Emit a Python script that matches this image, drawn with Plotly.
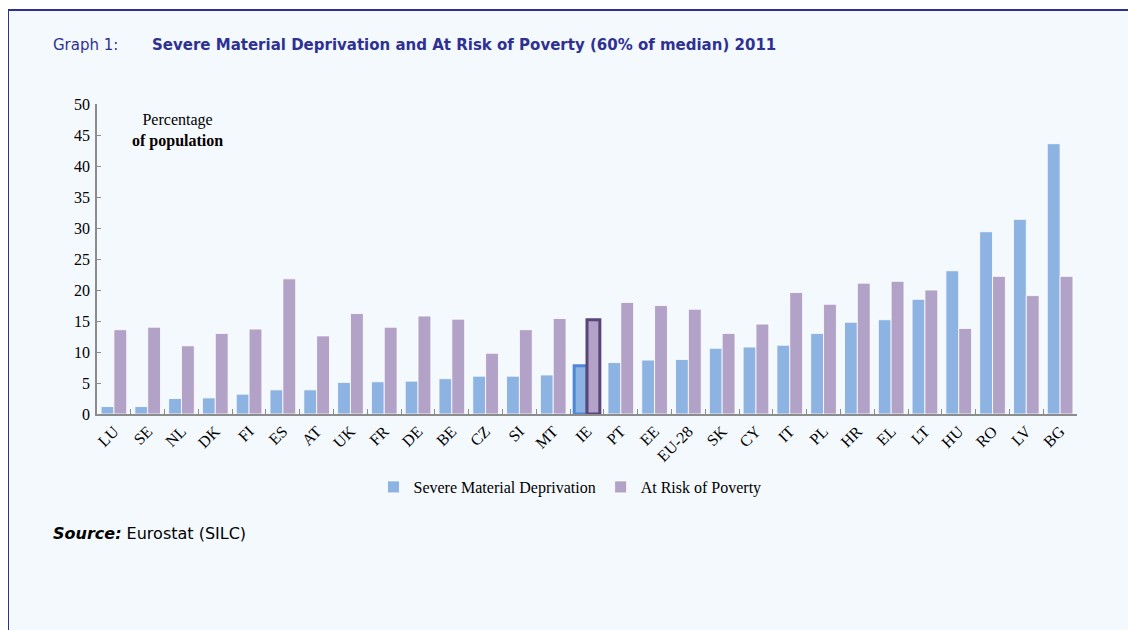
"""
Graph 1 — Severe Material Deprivation and At Risk of Poverty (60% of median), 2011.
"""

import plotly.graph_objects as go


# ── Data (Eurostat SILC, % of population) ────────────────────────────────────
COUNTRIES = [
    "LU", "SE", "NL", "DK", "FI", "ES", "AT", "UK", "FR", "DE",
    "BE", "CZ", "SI", "MT", "IE", "PT", "EE", "EU-28", "SK", "CY",
    "IT", "PL", "HR", "EL", "LT", "HU", "RO", "LV", "BG",
]
SEVERE_DEPRIVATION = [
    1.2, 1.2, 2.5, 2.6, 3.2, 3.9, 3.9, 5.1, 5.2, 5.3,
    5.7, 6.1, 6.1, 6.3, 7.8, 8.3, 8.7, 8.8, 10.6, 10.8,
    11.1, 13.0, 14.8, 15.2, 18.5, 23.1, 29.4, 31.4, 43.6,
]
AT_RISK_POVERTY = [
    13.6, 14.0, 11.0, 13.0, 13.7, 21.8, 12.6, 16.2, 14.0, 15.8,
    15.3, 9.8, 13.6, 15.4, 15.2, 18.0, 17.5, 16.9, 13.0, 14.5,
    19.6, 17.7, 21.1, 21.4, 20.0, 13.8, 22.2, 19.1, 22.2,
]
HIGHLIGHT = "IE"

# ── Colours / fonts ──────────────────────────────────────────────────────────
BLUE        = "#8DB3E2"
PURPLE      = "#B3A2C7"
BLUE_EDGE   = "#4F86D6"
PURPLE_EDGE = "#5A4479"
NAVY        = "#2E3192"
PANEL_BG    = "#F4F9FD"
AXIS_GREY   = "#8C8C8C"
SERIF       = "Liberation Serif"
SANS        = "DejaVu Sans"

# page body has an 8px margin, so the figure sits at (8, 8) in the window
OFF = 8
W, H = 1136 - OFF, 630 - OFF
PX_L, PX_R, PX_T, PX_B = 97, 1077, 104, 414   # plot area in window pixels


def px_x(x):
    return (x - PX_L) / (PX_R - PX_L)


def px_y(y):
    return (PX_B - y) / (PX_B - PX_T)


def edge(hi_col):
    cols = [hi_col if c == HIGHLIGHT else "rgba(255,255,255,0.8)" for c in COUNTRIES]
    widths = [3 if c == HIGHLIGHT else 1 for c in COUNTRIES]
    return dict(color=cols, width=widths)


fig = go.Figure()
fig.add_trace(go.Bar(
    x=COUNTRIES, y=SEVERE_DEPRIVATION,
    name="Severe Material Deprivation",
    marker=dict(color=BLUE, line=edge(BLUE_EDGE)),
))
fig.add_trace(go.Bar(
    x=COUNTRIES, y=AT_RISK_POVERTY,
    name="At Risk of Poverty",
    marker=dict(color=PURPLE, line=edge(PURPLE_EDGE)),
))

# panel with navy border behind everything
fig.add_shape(
    type="rect", xref="paper", yref="paper", layer="below",
    x0=px_x(8), x1=px_x(1133), y0=px_y(650), y1=px_y(10),
    line=dict(color=NAVY, width=2), fillcolor=PANEL_BG,
)

fig.add_annotation(
    xref="paper", yref="paper", x=px_x(51), y=px_y(45),
    xanchor="left", yanchor="middle", showarrow=False,
    text="Graph 1:",
    font=dict(family=SANS, size=15, color=NAVY),
)
fig.add_annotation(
    xref="paper", yref="paper", x=px_x(150), y=px_y(45),
    xanchor="left", yanchor="middle", showarrow=False,
    text="<b>Severe Material Deprivation and At Risk of Poverty (60% of median) 2011</b>",
    font=dict(family=SANS, size=15, color=NAVY),
)
fig.add_annotation(
    xref="paper", yref="paper", x=px_x(177), y=px_y(130),
    xanchor="center", yanchor="middle", showarrow=False, align="center",
    text="Percentage<br><b>of population</b>",
    font=dict(family=SERIF, size=16, color="#000"),
)
fig.add_annotation(
    xref="paper", yref="paper", x=px_x(51), y=px_y(533),
    xanchor="left", yanchor="middle", showarrow=False,
    text="<b><i>Source:</i></b> Eurostat (SILC)",
    font=dict(family=SANS, size=16, color="#000"),
)

fig.update_layout(
    width=W, height=H,
    margin=dict(l=PX_L - OFF, r=1136 - PX_R, t=PX_T - OFF, b=630 - PX_B),
    paper_bgcolor="white", plot_bgcolor="rgba(0,0,0,0)",
    barmode="group", bargap=0.24, bargroupgap=0.0,
    font=dict(family=SERIF, size=15, color="#000"),
    legend=dict(
        orientation="h", x=px_x(570), y=px_y(487),
        xanchor="center", yanchor="middle",
        font=dict(family=SERIF, size=16), bgcolor="rgba(0,0,0,0)",
        itemwidth=30, tracegroupgap=0,
    ),
    xaxis=dict(
        type="category", tickangle=-45,
        showline=True, linecolor=AXIS_GREY, linewidth=1.5,
        ticks="inside", tickson="boundaries", ticklen=5, tickcolor=AXIS_GREY,
        showgrid=False, tickfont=dict(family=SERIF, size=16),
    ),
    yaxis=dict(
        range=[0, 50], dtick=5,
        showline=True, linecolor=AXIS_GREY, linewidth=1.5,
        ticks="inside", ticklen=4, tickcolor=AXIS_GREY, ticklabelstandoff=2,
        showgrid=False, zeroline=False, tickfont=dict(family=SERIF, size=16),
    ),
)

fig.write_html("out.html")
